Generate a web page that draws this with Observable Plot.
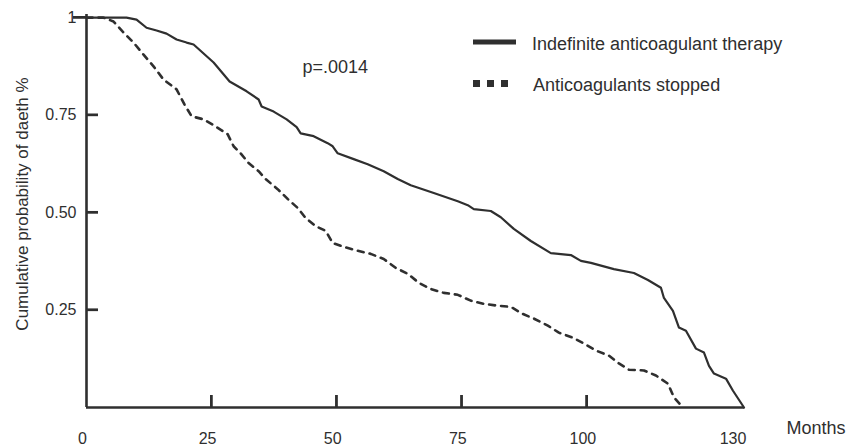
<!DOCTYPE html>
<html><head><meta charset="utf-8">
<script src="https://cdn.jsdelivr.net/npm/d3@7"></script>
<script src="https://cdn.jsdelivr.net/npm/@observablehq/plot@0.6"></script>
<style>body{margin:0;background:#fff;}</style>
</head><body><div id="chart"></div>
<script>
// ---- data ----
const indefMonths = [0, 8, 10, 12, 14, 16, 18, 20, 21.4, 25.4, 28.6, 32, 34.4, 35, 37.4, 40, 42, 42.8, 45.4, 48.2, 49.2, 50.2, 53.4, 56.2, 59.4, 62.2, 64.8, 69.4, 74.2, 76.2, 77.4, 80.8, 82.8, 85.4, 88.8, 92.8, 96.8, 98.8, 100.8, 105.4, 109.4, 112.2, 114.8, 115.4, 117.2, 118.4, 119.8, 121.8, 123.4, 124.4, 125.4, 127.8, 129.2, 131.4];
const indefProb = [1, 1, 0.995, 0.974, 0.967, 0.959, 0.944, 0.936, 0.931, 0.885, 0.836, 0.811, 0.79, 0.772, 0.759, 0.739, 0.719, 0.703, 0.696, 0.678, 0.67, 0.652, 0.637, 0.624, 0.606, 0.586, 0.57, 0.55, 0.529, 0.519, 0.509, 0.504, 0.488, 0.458, 0.427, 0.396, 0.391, 0.376, 0.371, 0.355, 0.345, 0.327, 0.307, 0.281, 0.248, 0.205, 0.197, 0.151, 0.141, 0.107, 0.087, 0.074, 0.043, 0];
const stopMonths = [0, 3.4, 5.4, 7.4, 9.4, 11.4, 13.4, 15.4, 18, 19.6, 21, 23.4, 25.8, 28.2, 29.4, 30.8, 32.4, 34.4, 35.8, 38.2, 40.2, 42.2, 43.8, 45.8, 47.8, 49.2, 51.4, 54.2, 56.8, 59.4, 61.8, 64.2, 66.4, 68.8, 71.4, 74.2, 76.8, 79.4, 82.2, 84.8, 87.2, 89.4, 92.2, 94.4, 97.2, 99.4, 101.8, 104.4, 106.4, 108.4, 111.4, 113.8, 116.2, 117.4, 119.2];
const stopProb = [1, 1, 0.99, 0.962, 0.936, 0.905, 0.875, 0.841, 0.816, 0.777, 0.747, 0.739, 0.721, 0.701, 0.67, 0.652, 0.627, 0.606, 0.586, 0.56, 0.535, 0.512, 0.486, 0.465, 0.453, 0.422, 0.412, 0.402, 0.394, 0.381, 0.358, 0.343, 0.32, 0.304, 0.294, 0.289, 0.274, 0.266, 0.261, 0.258, 0.24, 0.228, 0.21, 0.192, 0.179, 0.164, 0.146, 0.133, 0.113, 0.097, 0.095, 0.082, 0.061, 0.026, 0];
const seriesNames = ["Indefinite anticoagulant therapy", "Anticoagulants stopped"];
const xTickValues = [0, 25, 50, 75, 100, 130];
const xTickLabels = ["0", "25", "50", "75", "100", "130"];
const yTickValues = [0.25, 0.5, 0.75, 1];
const yTickLabels = ["0.25", "0.50", "0.75", "1"];
const pValueText = "p=.0014";
const xTitle = "Months";
const yTitle = "Cumulative probability of daeth %";

// ---- build ----
const indef = indefMonths.map((m, i) => ({month: m, prob: indefProb[i]}));
const stop = stopMonths.map((m, i) => ({month: m, prob: stopProb[i]}));
const ink = "#2f2f2f";
const font = "Liberation Sans, Arial, Helvetica, sans-serif";
const xInner = xTickValues.filter(v => v > 0 && v < 130);
const yInner = yTickValues.filter(v => v < 1);
const yTop = yTickValues.filter(v => v === 1);

const plot = Plot.plot({
  width: 851, height: 448,
  marginLeft: 86, marginRight: 107, marginTop: 14, marginBottom: 41,
  x: {domain: [0, 131.5], label: null},
  y: {domain: [0, 1.008], label: null},
  marks: [
    Plot.axisX({ticks: xTickValues, tickSize: 0, tickPadding: 25, dx: -4, fontSize: 16, label: null,
      fontFamily: font, fill: ink, tickFormat: d => xTickLabels[xTickValues.indexOf(d)]}),
    Plot.axisY({ticks: yTickValues, tickSize: 0, tickPadding: 10, fontSize: 16, label: null,
      fontFamily: font, fill: ink, tickFormat: d => yTickLabels[yTickValues.indexOf(d)]}),
    Plot.ruleX([0], {stroke: ink, strokeWidth: 2.6}),
    Plot.ruleY([0], {stroke: ink, strokeWidth: 2.6}),
    Plot.line(indef, {x: "month", y: "prob", stroke: ink, strokeWidth: 2.2}),
    Plot.line(stop, {x: "month", y: "prob", stroke: ink, strokeWidth: 2.6, strokeDasharray: "6,6"}),
    Plot.text([pValueText], {text: d => d, frameAnchor: "top-left", dx: 216, dy: 58, fontFamily: font,
      lineAnchor: "bottom", textAnchor: "start", fontSize: 18, fill: ink}),
    Plot.text([xTitle], {text: d => d, frameAnchor: "bottom-right", dx: 42, dy: 26, fontFamily: font,
      lineAnchor: "bottom", textAnchor: "start", fontSize: 18, fill: ink}),
    Plot.text([yTitle], {text: d => d, frameAnchor: "left", dx: -64, dy: -7, rotate: -90, fontFamily: font,
      textAnchor: "middle", fontSize: 17, fill: ink}),
    Plot.ruleX(xInner, {x: d => d, y1: 0, y2: 0, insetTop: -12, stroke: ink, strokeWidth: 2.2}),
    Plot.ruleY(yInner, {y: d => d, x1: 0, x2: 0, insetRight: -12, stroke: ink, strokeWidth: 2.2}),
    Plot.ruleY(yTop, {y: d => d, x1: 0, x2: 0, insetLeft: -13, stroke: ink, strokeWidth: 2.2})
  ]
});

const svg = d3.select(plot);
// tick marks again on top, positioned through the plot's own scales
const sx = plot.scale("x"), sy = plot.scale("y");
const tg = svg.append("g").attr("stroke", ink).attr("stroke-width", 2.2);
xInner.forEach(v => tg.append("line").attr("x1", sx.apply(v)).attr("x2", sx.apply(v))
  .attr("y1", sy.apply(0) - 12).attr("y2", sy.apply(0)));
yInner.forEach(v => tg.append("line").attr("x1", sx.apply(0)).attr("x2", sx.apply(0) + 12)
  .attr("y1", sy.apply(v)).attr("y2", sy.apply(v)));
yTop.forEach(v => tg.append("line").attr("x1", sx.apply(0) - 13).attr("x2", sx.apply(0))
  .attr("y1", sy.apply(v)).attr("y2", sy.apply(v)));

// legend (inside the plot area, top right)
const lg = svg.append("g").attr("font-family", font).attr("font-size", 18)
  .attr("fill", ink).attr("text-anchor", "start");
lg.append("line").attr("x1", 473).attr("x2", 516).attr("y1", 42).attr("y2", 42)
  .attr("stroke", ink).attr("stroke-width", 5);
lg.append("text").attr("x", 532).attr("y", 50).text(seriesNames[0]);
lg.append("line").attr("x1", 473).attr("x2", 509).attr("y1", 83.5).attr("y2", 83.5)
  .attr("stroke", ink).attr("stroke-width", 7).attr("stroke-dasharray", "7,7");
lg.append("text").attr("x", 533).attr("y", 91).text(seriesNames[1]);

document.getElementById("chart").appendChild(plot);
</script>
</body></html>
